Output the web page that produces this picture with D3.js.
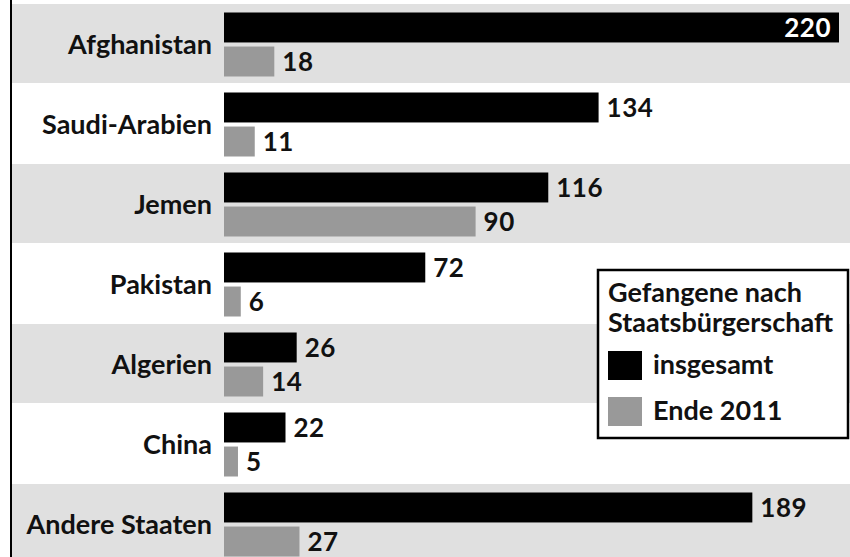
<!DOCTYPE html>
<html>
<head>
<meta charset="utf-8">
<script src="https://cdn.jsdelivr.net/npm/d3@7"></script>
<style>
  body { margin: 0; background: #fff; }
  svg { display: block; font-family: Lato, "Open Sans", sans-serif; font-weight: 700; }
</style>
</head>
<body>
<svg id="chart"></svg>
<script>
// data
var countries = ["Afghanistan", "Saudi-Arabien", "Jemen", "Pakistan", "Algerien", "China", "Andere Staaten"];
var insgesamt = [220, 134, 116, 72, 26, 22, 189];
var ende2011 = [18, 11, 90, 6, 14, 5, 27];
var seriesNames = ["insgesamt", "Ende 2011"];
var seriesColors = ["#000000", "#999999"];
var legendTitle = ["Gefangene nach", "Staatsbürgerschaft"];

var width = 850;
var height = 557;
var rowHeight = 80;
var topY = 4;

var rows = countries.map(function(c, i){
  return {country: c, values: [insgesamt[i], ende2011[i]]};
});

var svg = d3.select("#chart")
    .attr("width", width)
    .attr("height", height);

var yScale = d3.scaleBand()
                .domain(countries)
                .range([topY, topY + rowHeight * countries.length]);

var innerScale = d3.scaleBand()
                .domain(seriesNames)
                .range([8.5, 72.5])
                .paddingInner(0.12);

var xScale = d3.scaleLinear()
                .domain([0, 220])
                .range([224, 839]);

var color = d3.scaleOrdinal()
                .domain(seriesNames)
                .range(seriesColors);

// alternating bands
svg.selectAll(".band")
  .data(countries)
  .enter()
  .append("rect")
    .attr("x", 12)
    .attr("y", d => yScale(d))
    .attr("width", width - 12)
    .attr("height", yScale.bandwidth() - 1)
    .attr("fill", (d, i) => i % 2 === 0 ? "#e0e0e0" : "#ffffff");

// left rule
svg.append("line")
    .attr("x1", 11).attr("x2", 11)
    .attr("y1", 0).attr("y2", height)
    .attr("stroke", "#000")
    .attr("stroke-width", 2);

var row = svg.selectAll(".row")
  .data(rows)
  .enter()
  .append("g")
    .attr("transform", d => "translate(0," + yScale(d.country) + ")");

row.append("text")
    .attr("x", 212)
    .attr("y", 50)
    .style("text-anchor", "end")
    .style("font-size", "27px")
    .attr("fill", "#111")
    .text(d => d.country);

var bars = row.selectAll(".bar")
  .data(d => d.values.map(function(v, i){ return {key: seriesNames[i], value: v}; }))
  .enter();

bars.append("rect")
    .attr("x", xScale(0))
    .attr("y", d => innerScale(d.key))
    .attr("width", d => xScale(d.value) - xScale(0))
    .attr("height", innerScale.bandwidth())
    .attr("fill", d => color(d.key));

bars.append("text")
    .attr("x", function(d){
      var end = xScale(d.value);
      return end > width - 60 ? end - 8 : end + 8;
    })
    .attr("y", d => innerScale(d.key) + innerScale.bandwidth() / 2)
    .attr("dy", "0.35em")
    .style("text-anchor", d => xScale(d.value) > width - 60 ? "end" : "start")
    .style("font-size", "26px")
    .style("letter-spacing", "0.5px")
    .attr("fill", d => xScale(d.value) > width - 60 ? "#fff" : "#111")
    .text(d => d.value);

// legend
var legend = svg.append("g");

legend.append("rect")
    .attr("x", 598)
    .attr("y", 270)
    .attr("width", 250)
    .attr("height", 168)
    .attr("fill", "#fff")
    .attr("stroke", "#000")
    .attr("stroke-width", 2.5);

legend.selectAll(".title")
  .data(legendTitle)
  .enter()
  .append("text")
    .attr("x", 608)
    .attr("y", (d, i) => 302 + i * 30)
    .style("font-size", "27px")
    .attr("fill", "#111")
    .text(d => d);

var item = legend.selectAll(".item")
  .data(seriesNames)
  .enter()
  .append("g")
    .attr("transform", (d, i) => "translate(608," + (351 + i * 46) + ")");

item.append("rect")
    .attr("width", 34)
    .attr("height", 29)
    .attr("fill", d => color(d));

item.append("text")
    .attr("x", 45)
    .attr("y", 23)
    .style("font-size", "27px")
    .attr("fill", "#111")
    .text(d => d);
</script>
</body>
</html>
